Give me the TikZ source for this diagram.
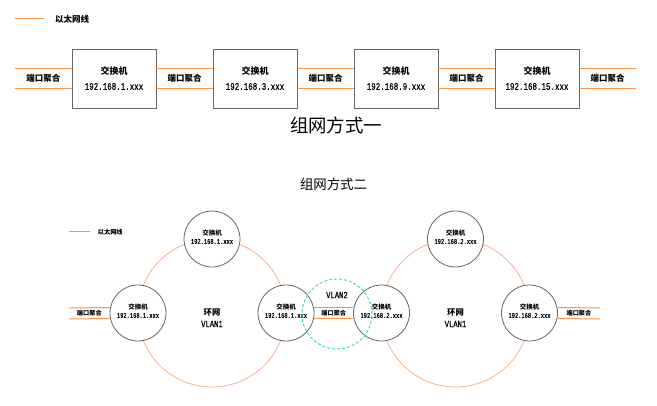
\documentclass[tikz,border=0pt]{standalone}
\usepackage{fontspec}
\setmainfont{Liberation Serif}
\newfontfamily\cjk{Noto Sans CJK SC}
\newfontfamily\ipfont[FakeStretch=0.75,FakeBold=0.5]{Liberation Mono}
\usetikzlibrary{positioning}

\definecolor{ethorange}{HTML}{F79646}
\definecolor{ringorange}{HTML}{F7B18C}
\definecolor{vlangreen}{HTML}{2EE38A}
\definecolor{boxgray}{HTML}{666666}

\tikzset{
  switchbox/.style={draw=boxgray, line width=0.9pt, fill=white, minimum width=84pt, minimum height=59pt, inner sep=0pt},
  switchnode/.style={circle, draw=boxgray, line width=0.8pt, fill=white, minimum size=56pt, inner sep=0pt},
  ethline/.style={draw=ethorange, line width=1pt},
  ringline/.style={draw=ringorange, line width=0.8pt},
  vlanline/.style={draw=vlangreen, line width=0.9pt, dash pattern=on 3pt off 2pt},
  boxname/.style={font=\cjk\bfseries\fontsize{9}{10}\selectfont, inner sep=0pt},
  boxip/.style={font=\ipfont\fontsize{10}{11}\selectfont, inner sep=0pt},
  swname/.style={font=\cjk\bfseries\fontsize{6.5}{7}\selectfont, inner sep=0pt},
  swip/.style={font=\ipfont\fontsize{7.2}{8}\selectfont, inner sep=0pt},
  portlbl/.style={font=\cjk\bfseries\fontsize{8.5}{10}\selectfont, inner sep=0pt},
  smallport/.style={font=\cjk\bfseries\fontsize{6.2}{7}\selectfont, inner sep=0pt},
  ringtxt/.style={font=\cjk\bfseries\fontsize{8.3}{9}\selectfont, inner sep=0pt},
  vlantxt/.style={font=\ipfont\fontsize{9.6}{10}\selectfont, inner sep=0pt},
}

\begin{document}
\begin{tikzpicture}[x=1pt,y=-1pt]
  \useasboundingbox (0,0) rectangle (657,406);

  % Legend of the first layout
  \coordinate (leg1a) at (15,19);
  \coordinate (leg1b) at (44,19);
  \draw[ethline] (leg1a) -- (leg1b);
  \node[portlbl, right=11pt of leg1b] (leg1t) {以太网线};

  % Switches in a row
  \foreach \i/\ip in {1/1,2/3,3/9,4/15} {
    \node[switchbox] (b\i) at ({114+141*(\i-1)},78.5) {};
    \node[boxname] (b\i-name) at ([yshift=7.5pt]b\i.center) {交换机};
    \node[boxip] (b\i-ip) at ([yshift=-8pt]b\i.center) {192.168.\ip.xxx};
  }

  % Free ends of the outer links
  \coordinate (b0) at (15,78.5);
  \coordinate (b5) at (636,78.5);

  % Aggregated links (two lines each)
  \draw[ethline] ([yshift=9.5pt]b0) -- ([yshift=9.5pt]b1.west);
  \draw[ethline] ([yshift=-10.5pt]b0) -- ([yshift=-10.5pt]b1.west);
  \foreach \i/\j in {1/2,2/3,3/4} {
    \draw[ethline] ([yshift=9.5pt]b\i.east) -- ([yshift=9.5pt]b\j.west);
    \draw[ethline] ([yshift=-10.5pt]b\i.east) -- ([yshift=-10.5pt]b\j.west);
  }
  \draw[ethline] ([yshift=9.5pt]b4.east) -- ([yshift=9.5pt]b5);
  \draw[ethline] ([yshift=-10.5pt]b4.east) -- ([yshift=-10.5pt]b5);

  % Labels of the links
  \path (b0) -- node[portlbl] (p0) {端口聚合} (b1.west);
  \foreach \i/\j in {1/2,2/3,3/4} {
    \path (b\i.east) -- node[portlbl] (p\i) {端口聚合} (b\j.west);
  }
  \path (b4.east) -- node[portlbl] (p4) {端口聚合} (b5);

  \node[font=\cjk\fontsize{18.4}{20}\selectfont, inner sep=0pt] (title1) at (336,125) {组网方式一};

  % Second layout
  \node[font=\cjk\fontsize{13.4}{15}\selectfont, inner sep=0pt] (title2) at (333.5,184) {组网方式二};

  \coordinate (leg2a) at (69,232);
  \coordinate (leg2b) at (90,232);
  \draw[ethline] (leg2a) -- (leg2b);
  \node[smallport, right=7.7pt of leg2b] (leg2t) {以太网线};

  % Define the radius of the rings
  \def\ringradius{74pt}
  \coordinate (ringA) at (212,313);
  \coordinate (ringB) at (455.5,313);
  \draw[ringline] (ringA) circle[radius=\ringradius];
  \draw[ringline] (ringB) circle[radius=\ringradius];

  % Switches on the rings
  \node[switchnode] (a-top) at (212,239) {};
  \node[switchnode] (a-left) at (138,313) {};
  \node[switchnode] (a-right) at (286,313) {};
  \node[switchnode] (c-left) at (381.5,313) {};
  \node[switchnode] (c-top) at (455.5,239) {};
  \node[switchnode] (c-right) at (529.5,313) {};

  \foreach \n/\ip in {a-top/1,a-left/1,a-right/1,c-left/2,c-top/2,c-right/2} {
    \node[swname] (\n-name) at ([yshift=6pt]\n.center) {交换机};
    \node[swip] (\n-ip) at ([yshift=-2.5pt]\n.center) {192.168.\ip.xxx};
  }

  \node[ringtxt] (ringA-name) at (212,313) {环网};
  \node[vlantxt] (ringA-vlan) at (212,324) {VLAN1};
  \node[ringtxt] (ringB-name) at (455.5,313) {环网};
  \node[vlantxt] (ringB-vlan) at (455.5,324) {VLAN1};

  % Outer links of the rings
  \coordinate (a-ext) at (69,313.5);
  \coordinate (c-ext) at (600,313.5);
  \draw[ethline] ([yshift=5.5pt]a-ext) -- ([yshift=5.5pt]a-left.west);
  \draw[ethline] ([yshift=-5.5pt]a-ext) -- ([yshift=-5.5pt]a-left.west);
  \draw[ethline] ([yshift=5.5pt]c-right.east) -- ([yshift=5.5pt]c-ext);
  \draw[ethline] ([yshift=-5.5pt]c-right.east) -- ([yshift=-5.5pt]c-ext);
  \path (a-ext) -- node[smallport] (pa) {端口聚合} (a-left.west);
  \path (c-right.east) -- node[smallport] (pc) {端口聚合} (c-ext);

  % Link between the rings
  \draw[ethline] ([yshift=5.5pt]a-right.east) -- ([yshift=5.5pt]c-left.west);
  \draw[ethline] ([yshift=-5.5pt]a-right.east) -- ([yshift=-5.5pt]c-left.west);
  \path (a-right.east) -- node[smallport] (pm) {端口聚合} (c-left.west);

  % VLAN2 area
  \coordinate (vlan2) at (337,314);
  \draw[vlanline] (vlan2) circle[radius=35pt];
  \node[vlantxt] (vlan2-name) at (337,295) {VLAN2};

\end{tikzpicture}
\end{document}
